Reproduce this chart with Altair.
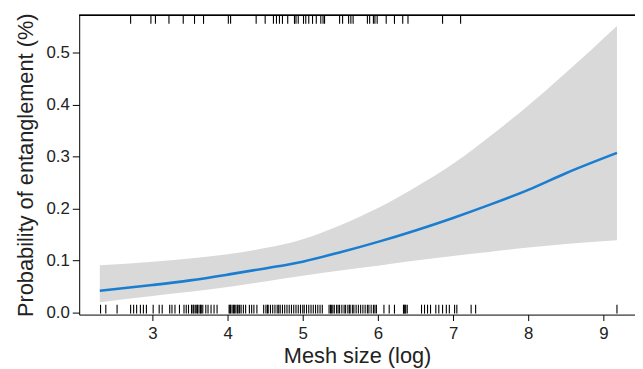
import altair as alt
import pandas as pd

# Fitted curve and confidence band
mesh = [2.30, 3.0, 3.5, 4.0, 4.5, 5.0, 5.5, 6.0, 6.5, 7.0, 7.5, 8.0, 8.5, 9.18]
fit = [0.042, 0.053, 0.062, 0.073, 0.085, 0.098, 0.116, 0.136, 0.158, 0.182, 0.208, 0.236, 0.268, 0.307]
upper = [0.091, 0.098, 0.104, 0.112, 0.124, 0.141, 0.168, 0.201, 0.241, 0.286, 0.340, 0.398, 0.461, 0.551]
lower = [0.020, 0.032, 0.040, 0.049, 0.060, 0.071, 0.081, 0.090, 0.100, 0.109, 0.117, 0.125, 0.132, 0.139]

# Rug: observations with entanglement (top) and without (bottom)
rug_top = [2.71, 2.98, 3.04, 3.22, 3.41, 3.56, 3.68, 4.01, 4.04, 4.38, 4.50, 4.61, 4.65,
           4.69, 4.73, 4.80, 4.89, 4.91, 4.94, 5.01, 5.04, 5.08, 5.13, 5.18, 5.24, 5.27,
           5.29, 5.49, 5.53, 5.61, 5.64, 5.67, 5.86, 5.89, 5.94, 5.96, 5.99, 6.11, 6.22,
           6.33, 6.40, 6.86, 7.10]
rug_bottom = [2.31, 2.38, 2.53, 2.71, 2.75, 2.79, 2.84, 2.88, 2.92, 3.01, 3.09, 3.13,
              3.23, 3.26, 3.30, 3.36, 3.42, 3.45, 3.48, 3.52, 3.54, 3.55, 3.57, 3.59, 3.60,
              3.62, 3.64, 3.65, 3.67, 3.71, 3.74, 3.78, 3.82, 3.86, 4.02, 4.03, 4.04, 4.06,
              4.08, 4.09, 4.11, 4.13, 4.14, 4.16, 4.18, 4.21, 4.24, 4.29, 4.32, 4.35, 4.39,
              4.48, 4.51, 4.53, 4.54, 4.57, 4.60, 4.63, 4.66, 4.68, 4.70, 4.73, 4.76, 4.79,
              4.82, 4.85, 4.88, 4.91, 4.94, 4.97, 5.00, 5.02, 5.05, 5.08, 5.11, 5.14, 5.17,
              5.20, 5.23, 5.26, 5.35, 5.37, 5.38, 5.40, 5.42, 5.45, 5.47, 5.49, 5.52, 5.55,
              5.57, 5.60, 5.62, 5.63, 5.66, 5.68, 5.71, 5.74, 5.77, 5.80, 5.83, 5.86, 5.88,
              5.91, 5.94, 5.96, 5.98, 6.08, 6.15, 6.22, 6.34, 6.35, 6.36, 6.37, 6.39, 6.58,
              6.62, 6.66, 6.70, 6.77, 6.81, 6.86, 6.91, 6.95, 7.02, 7.05, 7.24, 7.30, 9.18]

curve = pd.DataFrame({"mesh": mesh, "fit": fit, "lo": lower, "hi": upper})
top_df = pd.DataFrame({"mesh": rug_top})
bot_df = pd.DataFrame({"mesh": rug_bottom})

W, H = 562, 303
xs = alt.Scale(domain=[2.026, 9.42], nice=False, zero=False)
ys = alt.Scale(domain=[-0.0038, 0.5722], nice=False, zero=False)

FONT = "Liberation Sans"
xaxis = alt.Axis(values=[3, 4, 5, 6, 7, 8, 9], format="d", title="Mesh size (log)",
                 grid=False, domainColor="black", tickColor="black", tickSize=6,
                 labelFontSize=17, labelColor="#222", labelPadding=5, labelFont=FONT,
                 titleFontSize=22, titleFont=FONT, titleFontWeight="normal",
                 titleColor="#222", titlePadding=4)
yaxis = alt.Axis(values=[0, 0.1, 0.2, 0.3, 0.4, 0.5], format=".1f",
                 title="Probability of entanglement (%)", grid=False,
                 domainColor="black", tickColor="black", tickSize=7,
                 labelFontSize=17, labelColor="#222", labelPadding=3, labelFont=FONT,
                 titleFontSize=22, titleFont=FONT, titleFontWeight="normal",
                 titleColor="#222", titlePadding=9)

band = alt.Chart(curve).mark_area(color="#d9d9d9", opacity=1, interpolate="monotone").encode(
    x=alt.X("mesh:Q", scale=xs, axis=xaxis),
    y=alt.Y("lo:Q", scale=ys, axis=yaxis),
    y2="hi:Q",
)
line = alt.Chart(curve).mark_line(color="#1a7dd0", strokeWidth=2.6, interpolate="monotone").encode(
    x=alt.X("mesh:Q", scale=xs),
    y=alt.Y("fit:Q", scale=ys),
)
top_rug = alt.Chart(top_df).mark_rule(color="black", strokeWidth=1.1).encode(
    x=alt.X("mesh:Q", scale=xs), y=alt.value(0), y2=alt.value(9)
)
bot_rug = alt.Chart(bot_df).mark_rule(color="black", strokeWidth=1.1).encode(
    x=alt.X("mesh:Q", scale=xs), y=alt.value(293), y2=alt.value(302)
)
top_line = alt.Chart(curve).mark_rule(color="black", strokeWidth=1).encode(
    x=alt.value(0), x2=alt.value(W), y=alt.value(0.5)
)

chart = alt.layer(band, line, bot_rug, top_rug, top_line).properties(
    width=W, height=H,
    autosize=alt.AutoSizeParams(type="none"),
    padding={"left": 72, "top": 5, "right": 0, "bottom": 53},
).configure_view(stroke=None)

chart.save("out.html", embed_options={"renderer": "svg", "actions": False})
